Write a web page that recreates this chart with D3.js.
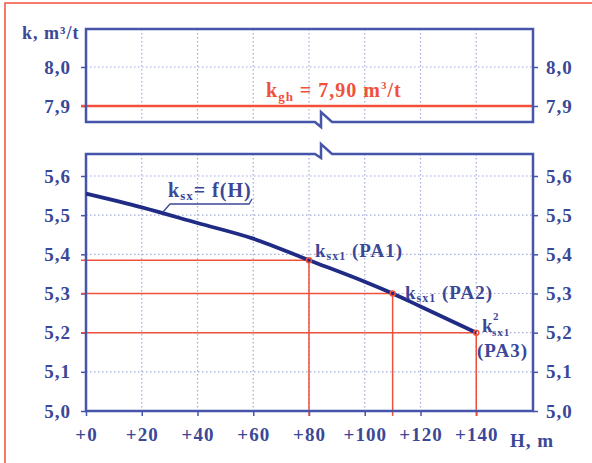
<!DOCTYPE html>
<html>
<head>
<meta charset="utf-8">
<script src="https://cdn.jsdelivr.net/npm/d3@7"></script>
<style>
  body { margin: 0; background: #fff; }
  svg text { font-family: "Liberation Serif", serif; font-weight: bold; letter-spacing: 1px; }
</style>
</head>
<body>
<svg id="chart" width="592" height="463"></svg>
<script>
// values
var H = [0, 20, 40, 60, 80, 100, 110, 120, 140];
var K = [5.555, 5.52, 5.48, 5.44, 5.385, 5.33, 5.30, 5.267, 5.20];
var paH = [80, 110, 140];
var paK = [5.385, 5.30, 5.20];
var kgh = 7.90;
var xTicks = [0, 20, 40, 60, 80, 100, 120, 140];
var yTicksBottom = [5.0, 5.1, 5.2, 5.3, 5.4, 5.5, 5.6];
var yTicksTop = [7.9, 8.0];

var blue = '#4654aa';
var textBlue = '#3b4797';
var red = '#f1503a';
var gridCol = '#a3abd9';

var svg = d3.select('#chart');

// outer frame
svg.append('rect').attr('x', 5).attr('y', 3).attr('width', 600).attr('height', 470)
  .attr('fill', 'none').attr('stroke', red).attr('stroke-width', 1.5);

var x = d3.scaleLinear().domain([0, 160]).range([86, 532]);
var yBot = d3.scaleLinear().domain([5.0, 5.6]).range([411, 176]);
var yTop = d3.scaleLinear().domain([7.9, 8.0]).range([106, 67]);

var left = 86, right = 533;
var topPanel = [29, 122], botPanel = [154, 411];

var fmt = function (d) { return d3.format('.1f')(d).replace('.', ','); };

// dotted grid
function grid(yScale, yTicks, y0, y1) {
  var g = svg.append('g').attr('stroke', gridCol).attr('stroke-width', 1.2)
    .attr('stroke-dasharray', '1.5,2.5');
  xTicks.filter(function (d) { return d > 0; }).forEach(function (d) {
    g.append('line').attr('x1', x(d)).attr('x2', x(d)).attr('y1', y0).attr('y2', y1);
  });
  yTicks.forEach(function (d) {
    g.append('line').attr('x1', left).attr('x2', right).attr('y1', yScale(d)).attr('y2', yScale(d));
  });
}
grid(yTop, [8.0], topPanel[0], topPanel[1]);
grid(yBot, yTicksBottom.filter(function (d) { return d > 5.0; }), botPanel[0], botPanel[1]);

// axes
function styleAxis(g) {
  g.select('.domain').remove();
  g.selectAll('.tick line').attr('stroke', blue).attr('stroke-width', 1.5);
  g.selectAll('.tick text').attr('fill', textBlue).attr('font-size', 19)
    .attr('font-family', '"Liberation Serif", serif');
}
svg.append('g').attr('transform', 'translate(' + left + ',0)')
  .call(d3.axisLeft(yBot).tickValues(yTicksBottom).tickFormat(fmt).tickSize(5).tickPadding(10))
  .call(styleAxis);
svg.append('g').attr('transform', 'translate(' + right + ',0)')
  .call(d3.axisRight(yBot).tickValues(yTicksBottom).tickFormat(fmt).tickSize(5).tickPadding(8))
  .call(styleAxis);
svg.append('g').attr('transform', 'translate(' + left + ',0)')
  .call(d3.axisLeft(yTop).tickValues(yTicksTop).tickFormat(fmt).tickSize(5).tickPadding(10))
  .call(styleAxis);
svg.append('g').attr('transform', 'translate(' + right + ',0)')
  .call(d3.axisRight(yTop).tickValues(yTicksTop).tickFormat(fmt).tickSize(5).tickPadding(8))
  .call(styleAxis);
svg.append('g').attr('transform', 'translate(0,' + botPanel[1] + ')')
  .call(d3.axisBottom(x).tickValues(xTicks).tickFormat(function (d) { return '+' + d; }).tickSize(5).tickPadding(12))
  .call(styleAxis);

// red kgh line
svg.append('line').attr('x1', left - 5).attr('x2', right).attr('y1', yTop(kgh)).attr('y2', yTop(kgh))
  .attr('stroke', red).attr('stroke-width', 2.5);
var kt = svg.append('text').attr('x', 266).attr('y', 97).attr('fill', red).attr('font-size', 20);
kt.append('tspan').text('k');
kt.append('tspan').attr('font-size', 13).attr('dy', 4).text('gh');
kt.append('tspan').attr('dy', -4).text(' = 7,90 m');
kt.append('tspan').attr('font-size', 11).attr('dy', -8).text('3');
kt.append('tspan').attr('dy', 8).text('/t');

// red PA guide lines
var pa = svg.append('g').attr('stroke', red).attr('stroke-width', 1.5).attr('fill', 'none');
paH.forEach(function (h, i) {
  pa.append('line').attr('x1', left - 5).attr('x2', x(h)).attr('y1', yBot(paK[i])).attr('y2', yBot(paK[i]));
  pa.append('line').attr('x1', x(h)).attr('x2', x(h)).attr('y1', yBot(paK[i])).attr('y2', botPanel[1] + 5);
});

// frames with break marks
svg.append('path').attr('fill', 'none').attr('stroke', blue).attr('stroke-width', 2.5)
  .attr('d', 'M' + left + ',' + topPanel[1] + 'V' + topPanel[0] + 'H' + right + 'V' + topPanel[1] +
    'H332L321,112V127L315,' + topPanel[1] + 'Z');
svg.append('path').attr('fill', 'none').attr('stroke', blue).attr('stroke-width', 2.5)
  .attr('d', 'M' + left + ',' + botPanel[0] + 'V' + botPanel[1] + 'H' + right + 'V' + botPanel[0] +
    'H332L321,144V158L315,' + botPanel[0] + 'Z');

// curve
var line = d3.line().x(function (d, i) { return x(H[i]); }).y(function (d) { return yBot(d); })
  .curve(d3.curveMonotoneX);
svg.append('path').datum(K).attr('d', line).attr('fill', 'none')
  .attr('stroke', '#1f2b84').attr('stroke-width', 3.8);

// red markers at the PA points
paH.forEach(function (h, i) {
  svg.append('circle').attr('cx', x(h)).attr('cy', yBot(paK[i])).attr('r', 2.5)
    .attr('fill', 'none').attr('stroke', red).attr('stroke-width', 1.5);
});

// leader + label for curve
svg.append('path').attr('fill', 'none').attr('stroke', textBlue).attr('stroke-width', 1.3)
  .attr('d', 'M163,212L170,204H249L252,199');
var fl = svg.append('text').attr('x', 168).attr('y', 197).attr('fill', textBlue).attr('font-size', 20);
fl.append('tspan').text('k');
fl.append('tspan').attr('font-size', 13).attr('dy', 3).text('sx');
fl.append('tspan').attr('dy', -3).text('= f(H)');

// PA labels
function paLabel(px, py, tag) {
  var t = svg.append('text').attr('x', px).attr('y', py).attr('fill', textBlue).attr('font-size', 19);
  t.append('tspan').text('k');
  t.append('tspan').attr('font-size', 12).attr('dy', 3).text('sx1');
  t.append('tspan').attr('dy', -3).text(' ' + tag);
}
paLabel(315, 257, '(PA1)');
paLabel(405, 299, '(PA2)');
// PA3: k with stacked super/subscript, then (PA3) below
svg.append('text').attr('x', 482).attr('y', 332).attr('fill', textBlue).attr('font-size', 19).text('k');
svg.append('text').attr('x', 493).attr('y', 320).attr('fill', textBlue).attr('font-size', 11).text('2');
svg.append('text').attr('x', 492).attr('y', 336).attr('fill', textBlue).attr('font-size', 11).text('sx1');
svg.append('text').attr('x', 477).attr('y', 357).attr('fill', textBlue).attr('font-size', 19).text('(PA3)');

// axis titles
svg.append('text').attr('x', 22).attr('y', 39).attr('fill', textBlue).attr('font-size', 18).text('k, m³/t');
svg.append('text').attr('x', 510).attr('y', 447).attr('fill', textBlue).attr('font-size', 19).text('H, m');
</script>
</body>
</html>
